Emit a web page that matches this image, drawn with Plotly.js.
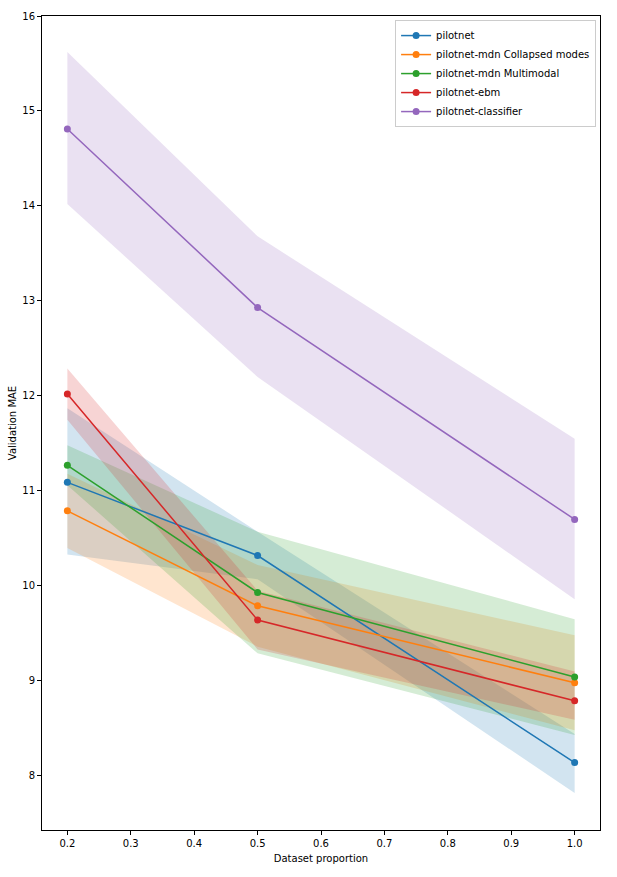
<!DOCTYPE html>
<html>
<head>
<meta charset="utf-8">
<script src="https://cdn.plot.ly/plotly-3.0.1.min.js"></script>
<style>html,body{margin:0;padding:0;background:#fff;}#chart{width:617px;height:877px;}</style>
</head>
<body>
<div id="chart"></div>
<script>
const proportions = [0.2, 0.5, 1.0];
const seriesNames = ["pilotnet", "pilotnet-mdn Collapsed modes", "pilotnet-mdn Multimodal", "pilotnet-ebm", "pilotnet-classifier"];
const seriesColors = ["#1f77b4", "#ff7f0e", "#2ca02c", "#d62728", "#9467bd"];
const bandColors = ["rgba(31,119,180,0.2)", "rgba(255,127,14,0.2)", "rgba(44,160,44,0.2)", "rgba(214,39,40,0.2)", "rgba(148,103,189,0.2)"];

const pilotnetMean = [11.09, 10.32, 8.14];
const pilotnetLow  = [10.33, 10.07, 7.82];
const pilotnetHigh = [11.87, 10.57, 8.44];

const mdnCollapsedMean = [10.79, 9.79, 8.98];
const mdnCollapsedLow  = [10.40, 9.36, 8.48];
const mdnCollapsedHigh = [11.18, 10.22, 9.48];

const mdnMultiMean = [11.27, 9.93, 9.04];
const mdnMultiLow  = [11.06, 9.29, 8.43];
const mdnMultiHigh = [11.48, 10.57, 9.65];

const ebmMean = [12.02, 9.64, 8.79];
const ebmLow  = [11.75, 9.33, 8.59];
const ebmHigh = [12.29, 9.95, 9.10];

const classifierMean = [14.81, 12.93, 10.70];
const classifierLow  = [14.02, 12.20, 9.86];
const classifierHigh = [15.62, 13.68, 11.55];

const xTicks = [0.2, 0.3, 0.4, 0.5, 0.6, 0.7, 0.8, 0.9, 1.0];
const xTickLabels = ["0.2", "0.3", "0.4", "0.5", "0.6", "0.7", "0.8", "0.9", "1.0"];
const yTicks = [8, 9, 10, 11, 12, 13, 14, 15, 16];

const means = [pilotnetMean, mdnCollapsedMean, mdnMultiMean, ebmMean, classifierMean];
const lows = [pilotnetLow, mdnCollapsedLow, mdnMultiLow, ebmLow, classifierLow];
const highs = [pilotnetHigh, mdnCollapsedHigh, mdnMultiHigh, ebmHigh, classifierHigh];

const traces = [];
for (let i = 0; i < seriesNames.length; i++) {
  const xs = proportions.concat(proportions.slice().reverse());
  const ys = highs[i].concat(lows[i].slice().reverse());
  traces.push({
    x: xs, y: ys, type: 'scatter', mode: 'lines', fill: 'toself',
    fillcolor: bandColors[i], line: {width: 0, color: bandColors[i]},
    hoverinfo: 'skip', showlegend: false
  });
}
for (let i = 0; i < seriesNames.length; i++) {
  traces.push({
    x: proportions, y: means[i], type: 'scatter', mode: 'lines+markers',
    name: seriesNames[i],
    line: {color: seriesColors[i], width: 1.5},
    marker: {color: seriesColors[i], size: 7}
  });
}

const axisCommon = {
  showline: true, linecolor: '#000', linewidth: 1, mirror: true,
  ticks: 'outside', ticklen: 4, tickwidth: 1, tickcolor: '#000',
  showgrid: false, zeroline: false,
  tickfont: {family: 'DejaVu Sans', size: 10, color: '#000'}
};

const layout = {
  width: 617, height: 877,
  margin: {l: 42, r: 17, t: 16, b: 47},
  paper_bgcolor: '#fff', plot_bgcolor: '#fff',
  font: {family: 'DejaVu Sans', size: 10, color: '#000'},
  xaxis: Object.assign({}, axisCommon, {
    range: [0.16, 1.04], tickvals: xTicks, ticktext: xTickLabels,
    title: {text: 'Dataset proportion', font: {family: 'DejaVu Sans', size: 10, color: '#000'}, standoff: 6}
  }),
  yaxis: Object.assign({}, axisCommon, {
    range: [7.43, 16], tickvals: yTicks,
    title: {text: 'Validation MAE', font: {family: 'DejaVu Sans', size: 10, color: '#000'}, standoff: 3}
  }),
  legend: {
    x: 0.993, y: 0.995, xanchor: 'right', yanchor: 'top',
    bgcolor: 'rgba(255,255,255,0.8)', bordercolor: '#cccccc', borderwidth: 1,
    font: {family: 'DejaVu Sans', size: 10, color: '#000'},
    itemwidth: 30, tracegroupgap: 0
  },
  showlegend: true
};

Plotly.newPlot('chart', traces, layout, {displayModeBar: false, staticPlot: true});
</script>
</body>
</html>
